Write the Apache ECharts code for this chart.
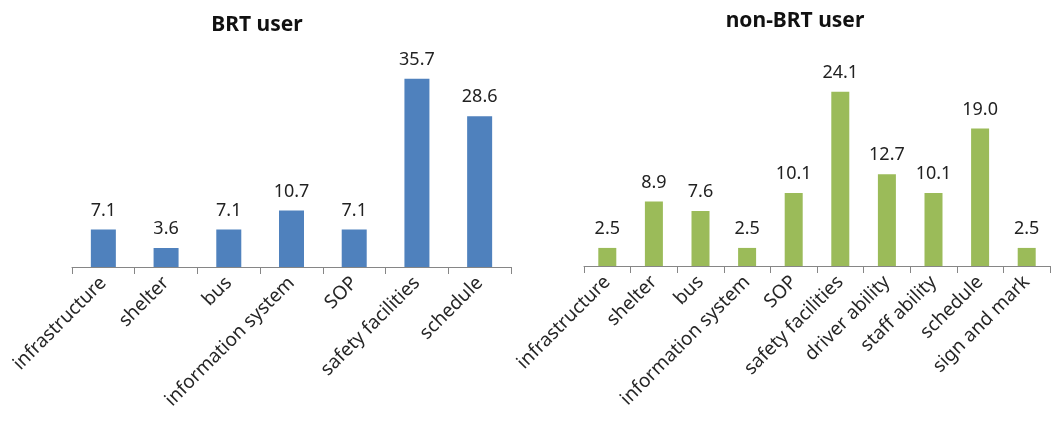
<!DOCTYPE html>
<html>
<head>
<meta charset="utf-8">
<script src="https://cdn.jsdelivr.net/npm/echarts@6/dist/echarts.min.js"></script>
<style>
  html, body { margin: 0; padding: 0; background: #ffffff; }
  #chart { width: 1054px; height: 421px; }
</style>
</head>
<body>
<div id="chart"></div>
<script>
// Share of respondents (%) naming each service aspect
const brtCategories = ['infrastructure', 'shelter', 'bus', 'information system', 'SOP', 'safety facilities', 'schedule'];
const brtValues = [7.1, 3.6, 7.1, 10.7, 7.1, 35.7, 28.6];

const nonBrtCategories = ['infrastructure', 'shelter', 'bus', 'information system', 'SOP', 'safety facilities', 'driver ability', 'staff ability', 'schedule', 'sign and mark'];
const nonBrtValues = [2.5, 8.9, 7.6, 2.5, 10.1, 24.1, 12.7, 10.1, 19.0, 2.5];

const titles = ['BRT user', 'non-BRT user'];

const FONT = '"Noto Sans", "Open Sans", sans-serif';
const axisGray = '#868686';

function catAxis(gridIndex, data, fontSize) {
  return {
    type: 'category',
    gridIndex: gridIndex,
    data: data,
    axisLine: { show: true, lineStyle: { color: axisGray, width: 1 } },
    axisTick: { show: true, length: 7, lineStyle: { color: axisGray } },
    axisLabel: {
      rotate: 45,
      margin: 13,
      interval: 0,
      color: '#262626',
      fontFamily: FONT,
      fontSize: fontSize
    },
    splitLine: { show: false }
  };
}

function valAxis(gridIndex, max) {
  return { type: 'value', gridIndex: gridIndex, min: 0, max: max, show: false };
}

function barSeries(axisIndex, data, color, width) {
  return {
    type: 'bar',
    xAxisIndex: axisIndex,
    yAxisIndex: axisIndex,
    data: data,
    barWidth: width,
    itemStyle: { color: color },
    label: {
      show: true,
      position: 'top',
      distance: 10,
      color: '#222',
      fontFamily: FONT,
      fontSize: 18,
      formatter: p => p.value.toFixed(1)
    },
    silent: true
  };
}

const chart = echarts.init(document.getElementById('chart'), null, { renderer: 'canvas' });
chart.setOption({
  animation: false,
  backgroundColor: '#ffffff',
  title: [
    { text: titles[0], left: 252, top: 10, textAlign: 'center',
      textStyle: { fontFamily: FONT, fontSize: 21, fontWeight: 'bold', color: '#111' } },
    { text: titles[1], left: 790, top: 6, textAlign: 'center',
      textStyle: { fontFamily: FONT, fontSize: 21, fontWeight: 'bold', color: '#111' } }
  ],
  grid: [
    { left: 72, right: 543, top: 56, bottom: 154 },
    { left: 584, right: 4, top: 49, bottom: 155 }
  ],
  xAxis: [catAxis(0, brtCategories, 19), catAxis(1, nonBrtCategories, 19)],
  yAxis: [valAxis(0, 40), valAxis(1, 30)],
  series: [
    barSeries(0, brtValues, '#4F81BD', 25),
    barSeries(1, nonBrtValues, '#9BBB59', 18)
  ]
});
</script>
</body>
</html>
